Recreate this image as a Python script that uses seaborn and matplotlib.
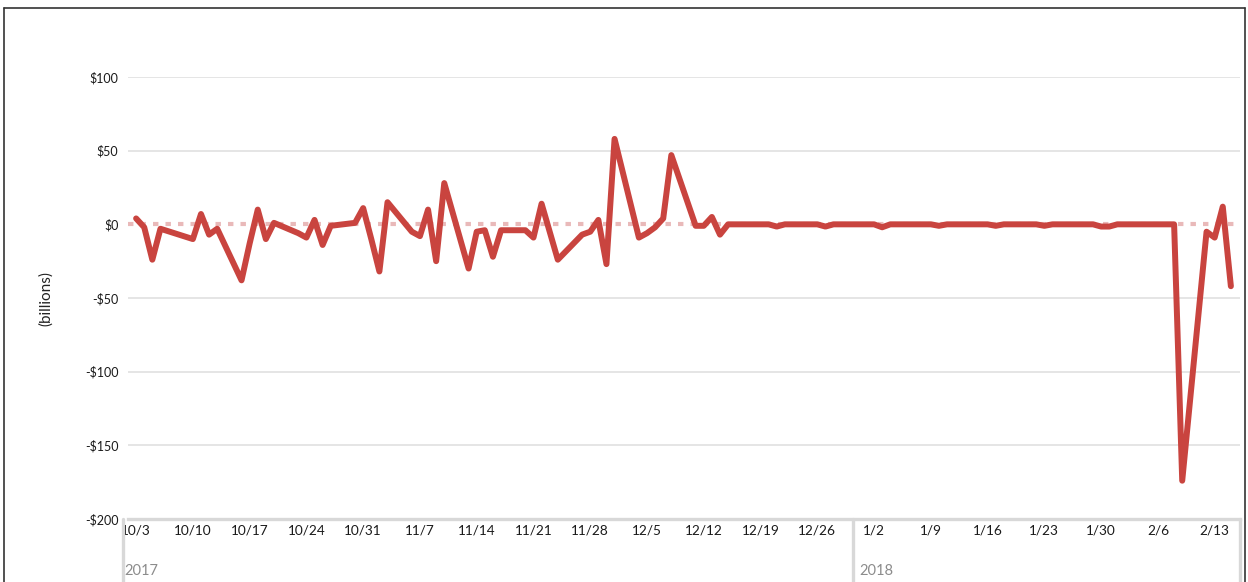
import matplotlib
matplotlib.use("Agg")
import matplotlib.pyplot as plt
from matplotlib.lines import Line2D
import seaborn as sns
import pandas as pd

# ---------------- data ----------------
dates = [
    "2017-10-03", "2017-10-04", "2017-10-05", "2017-10-06",
    "2017-10-10", "2017-10-11", "2017-10-12", "2017-10-13",
    "2017-10-16", "2017-10-17", "2017-10-18", "2017-10-19", "2017-10-20",
    "2017-10-23", "2017-10-24", "2017-10-25", "2017-10-26", "2017-10-27",
    "2017-10-30", "2017-10-31", "2017-11-01", "2017-11-02", "2017-11-03",
    "2017-11-06", "2017-11-07", "2017-11-08", "2017-11-09", "2017-11-10",
    "2017-11-13", "2017-11-14", "2017-11-15", "2017-11-16", "2017-11-17",
    "2017-11-20", "2017-11-21", "2017-11-22", "2017-11-24",
    "2017-11-27", "2017-11-28", "2017-11-29", "2017-11-30", "2017-12-01",
    "2017-12-04", "2017-12-05", "2017-12-06", "2017-12-07", "2017-12-08",
    "2017-12-11", "2017-12-12", "2017-12-13", "2017-12-14", "2017-12-15",
    "2017-12-18", "2017-12-19", "2017-12-20", "2017-12-21", "2017-12-22",
    "2017-12-26", "2017-12-27", "2017-12-28", "2017-12-29",
    "2018-01-02", "2018-01-03", "2018-01-04", "2018-01-05",
    "2018-01-08", "2018-01-09", "2018-01-10", "2018-01-11", "2018-01-12",
    "2018-01-16", "2018-01-17", "2018-01-18", "2018-01-19",
    "2018-01-22", "2018-01-23", "2018-01-24", "2018-01-25", "2018-01-26",
    "2018-01-29", "2018-01-30", "2018-01-31", "2018-02-01", "2018-02-02",
    "2018-02-05", "2018-02-06", "2018-02-07", "2018-02-08", "2018-02-09",
    "2018-02-12", "2018-02-13", "2018-02-14", "2018-02-15",
]
values = [
    4, -2, -24, -3,
    -10, 7, -7, -3,
    -38, -13, 10, -10, 1,
    -6, -9, 3, -14, -1,
    1, 11, -10, -32, 15,
    -5, -8, 10, -25, 28,
    -30, -5, -4, -22, -4,
    -4, -9, 14, -24,
    -7, -5, 3, -27, 58,
    -9, -6, -2, 4, 47,
    -1, -1, 5, -7, 0,
    0, 0, 0, -1.5, 0,
    0, -1.5, 0, 0,
    0, -2, 0, 0,
    0, 0, -1, 0, 0,
    0, -1, 0, 0,
    0, -1, 0, 0, 0,
    0, -1.5, -1.5, 0, 0,
    0, 0, 0, 0, -174,
    -5, -9, 12, -42,
]

tick_dates = [
    "2017-10-03", "2017-10-10", "2017-10-17", "2017-10-24", "2017-10-31",
    "2017-11-07", "2017-11-14", "2017-11-21", "2017-11-28", "2017-12-05",
    "2017-12-12", "2017-12-19", "2017-12-26", "2018-01-02", "2018-01-09",
    "2018-01-16", "2018-01-23", "2018-01-30", "2018-02-06", "2018-02-13",
]
tick_labels = [
    "10/3", "10/10", "10/17", "10/24", "10/31",
    "11/7", "11/14", "11/21", "11/28", "12/5",
    "12/12", "12/19", "12/26", "1/2", "1/9",
    "1/16", "1/23", "1/30", "2/6", "2/13",
]
y_ticks = [100, 50, 0, -50, -100, -150, -200]
y_tick_labels = ["$100", "$50", "$0", "-$50", "-$100", "-$150", "-$200"]
years = ["2017", "2018"]

# ---------------- style ----------------
sns.set_theme(style="white")
plt.rcParams['font.family'] = ['Lato', 'DejaVu Sans']

W, H = 1248, 582
fig = plt.figure(figsize=(W / 100, H / 100), dpi=100)
fig.patch.set_facecolor("white")

def fx(px):
    return px / W

def fy(py):
    return 1 - py / H

ax = fig.add_axes([fx(128), fy(519), fx(1240) - fx(128), fy(77) - fy(519)])

df = pd.DataFrame({"date": pd.to_datetime(dates), "value": values})

LINE_RED = "#C9443F"
ax.axhline(0, color="#E9B9B9", lw=3.0, ls=(0, (1.3, 1.7)), zorder=1)
sns.lineplot(data=df, x="date", y="value", ax=ax, color=LINE_RED,
             lw=4.3, zorder=3, solid_joinstyle="round", solid_capstyle="round")

ax.set_xlim(pd.Timestamp("2017-10-02"), pd.Timestamp("2018-02-16 03:00"))
ax.set_ylim(-200, 100)

ax.set_yticks(y_ticks)
ax.set_yticklabels(y_tick_labels)
ax.set_xticks(pd.to_datetime(tick_dates))
ax.set_xticklabels(tick_labels)

ax.set_xlabel("")
ax.set_ylabel("")

# grid lines (not at zero where the dotted reference is drawn)
for yv in y_ticks:
    if yv not in (0, -200):
        ax.axhline(yv, color="#E3E3E3", lw=1.3, zorder=0)

ax.tick_params(axis="y", length=0, pad=7, labelsize=9, labelcolor="#1a1a1a")
ax.tick_params(axis="x", length=0, pad=4, labelsize=9.8, labelcolor="#1a1a1a")

for s in ["top", "right", "left"]:
    ax.spines[s].set_visible(False)
ax.spines["bottom"].set_color("#D8D8D8")
ax.spines["bottom"].set_linewidth(2.4)
ax.set_facecolor("white")

# header box below axis (year panes)
box_color = "#D8D8D8"
for xpx in (123, 853, 1240):
    fig.add_artist(Line2D([fx(xpx), fx(xpx)], [fy(519), fy(590)],
                          color=box_color, lw=2.4, transform=fig.transFigure))

fig.text(fx(124), fy(571), years[0], ha="left", va="center",
         fontsize=10.5, color="#8C8C8C")
fig.text(fx(859), fy(571), years[1], ha="left", va="center",
         fontsize=10.5, color="#8C8C8C")

# y axis title
fig.text(fx(46), fy(298), "(billions)", rotation=90, ha="center", va="center",
         fontsize=11, color="#222222")

# outer frame
frame_color = "#333333"
fig.add_artist(Line2D([fx(3.5), fx(3.5)], [fy(8), fy(600)], color=frame_color,
                      lw=1.2, transform=fig.transFigure))
fig.add_artist(Line2D([fx(3.5), fx(1245)], [fy(8), fy(8)], color=frame_color,
                      lw=1.2, transform=fig.transFigure))
fig.add_artist(Line2D([fx(1245), fx(1245)], [fy(8), fy(600)], color=frame_color,
                      lw=1.2, transform=fig.transFigure))

fig.savefig("out.png", dpi=100, facecolor="white")
